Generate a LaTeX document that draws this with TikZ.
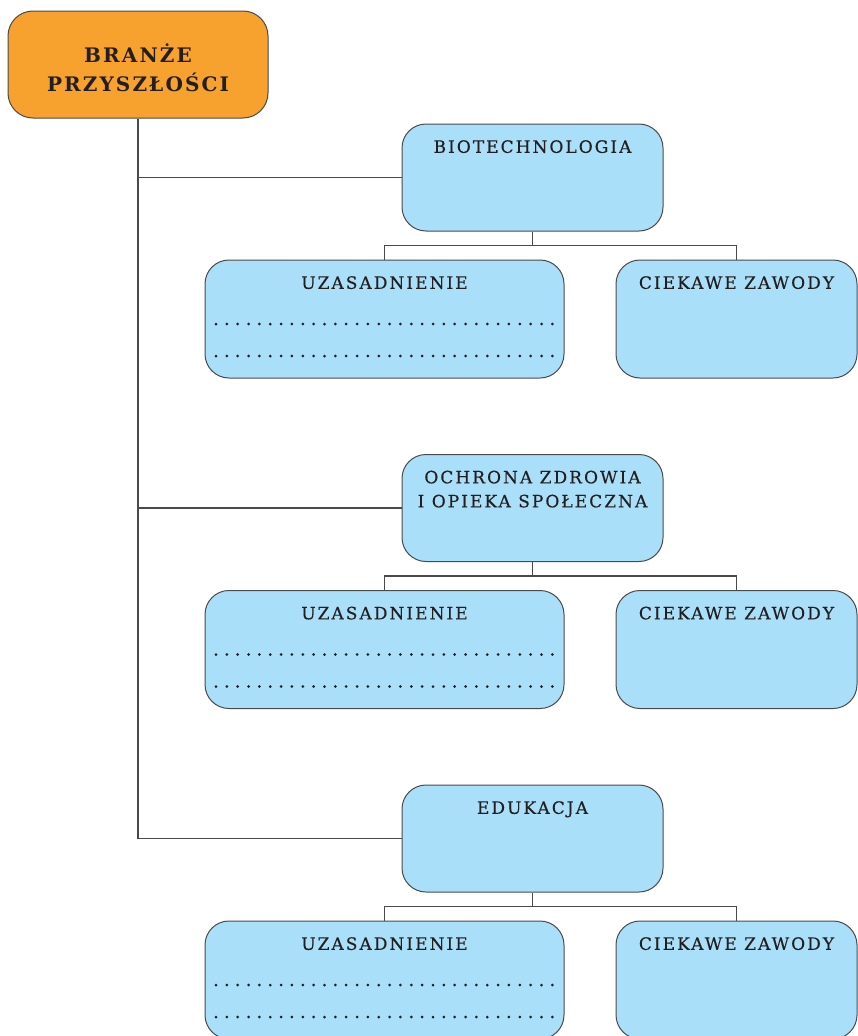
\documentclass[tikz,border=0pt]{standalone}
\usepackage{fontspec}
\setmainfont{DejaVu Serif}
\newfontfamily\headfont[LetterSpace=12,FakeBold=0.4]{DejaVu Serif}
\newfontfamily\rootfont[LetterSpace=10.5]{DejaVu Serif Bold}
\usetikzlibrary{calc,positioning}
\definecolor{BranzeOrange}{HTML}{F7A12F}
\definecolor{BranzeBlue}{HTML}{AADFF9}
\definecolor{BranzeLine}{HTML}{4A4A4A}
\definecolor{BranzeText}{HTML}{231F20}

\begin{document}
\begin{tikzpicture}[x=1pt,y=-1pt,
  every node/.style={text=BranzeText},
  link/.style={draw=BranzeLine,line width=1.2pt},
  rootbox/.style={draw=BranzeLine,fill=BranzeOrange,line width=1pt,rounded corners=25pt,
    minimum width=260pt,minimum height=107pt},
  roottitle/.style={anchor=center,inner sep=0pt,yshift=-3pt,align=center,
    font=\fontsize{20}{29}\rootfont},
  sectorbox/.style={draw=BranzeLine,fill=BranzeBlue,line width=1pt,rounded corners=24pt,
    minimum width=261pt,minimum height=107pt},
  reasonbox/.style={sectorbox,minimum width=359pt,minimum height=118pt},
  jobbox/.style={sectorbox,minimum width=241pt,minimum height=118pt},
  boxtitle/.style={anchor=north,inner sep=0pt,yshift=-16.5pt,align=center,
    font=\fontsize{17}{24}\headfont},
  dotrow/.style={draw=BranzeText,line width=3pt,line cap=round,dash pattern=on 0pt off 10.85pt}]
  \useasboundingbox (0,0) rectangle (857,1036);

  \node[rootbox,label={[roottitle]center:{BRANŻE\\PRZYSZŁOŚCI}}] (root) at (138,64.5) {};

  % one sector per row: title box, then its two answer boxes
  \foreach \i/\dy/\txt in {bio/0/{BIOTECHNOLOGIA},
                           zdr/330.5/{OCHRONA ZDROWIA\\I OPIEKA SPOŁECZNA},
                           edu/661/{EDUKACJA}} {
    \node[sectorbox,label={[boxtitle]north:\txt}] (\i) at (532.5,{177.5+\dy}) {};
    \node[reasonbox,label={[boxtitle]north:UZASADNIENIE}] (\i-uz) at (384.5,{319+\dy}) {};
    \node[jobbox,label={[boxtitle]north:CIEKAWE ZAWODY}] (\i-cw) at (736.5,{319+\dy}) {};
    \draw[dotrow] ($(\i-uz.center)+(-168.5,5)$) -- ($(\i-uz.center)+(168.5,5)$);
    \draw[dotrow] ($(\i-uz.center)+(-168.5,37)$) -- ($(\i-uz.center)+(168.5,37)$);
    \draw[link] (root.south |- \i.west) -- (\i.west);
    \draw[link] (\i.south) -- ++(0,14) coordinate (\i-bar);
    \draw[link] (\i-uz.north) |- (\i-bar) -| (\i-cw.north);
  }
  \draw[link] (root.south) -- (root.south |- edu.west);
\end{tikzpicture}
\end{document}
